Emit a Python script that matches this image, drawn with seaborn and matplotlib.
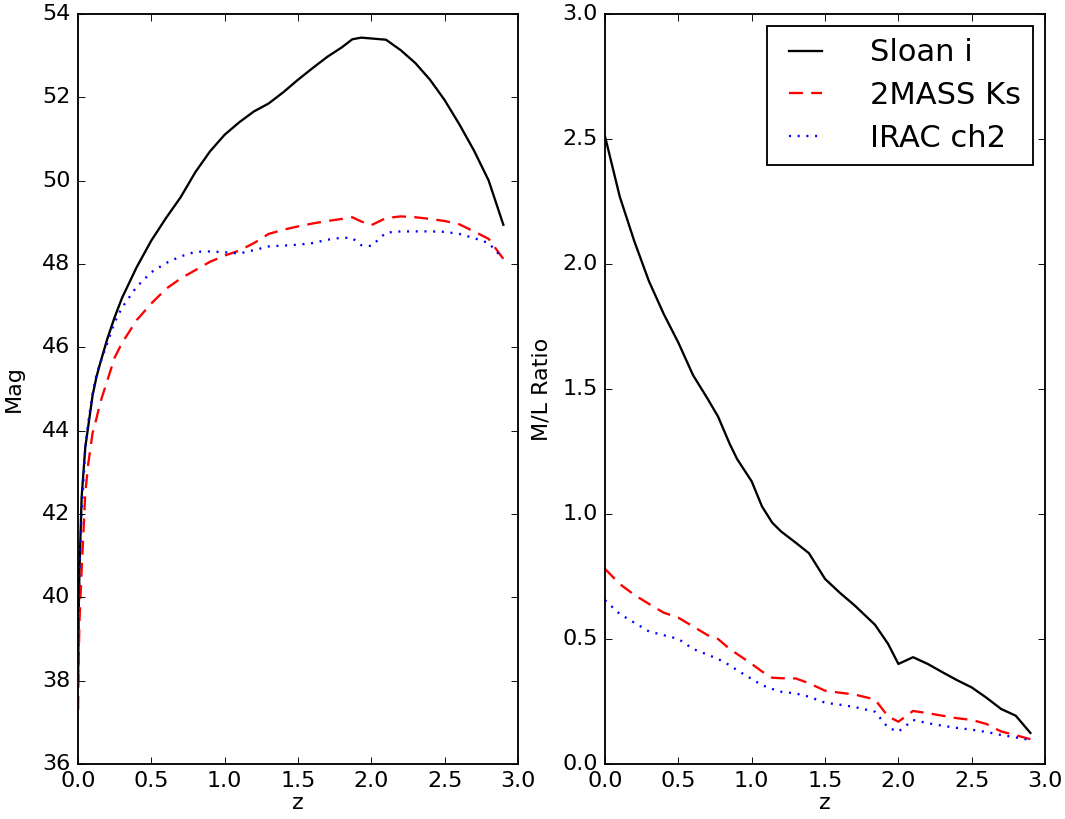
import numpy as np
import pandas as pd
import matplotlib
matplotlib.use("Agg")
import matplotlib.pyplot as plt
import seaborn as sns

# ---- data: left panel (magnitudes) ----
z_mag = [0.001, 0.005, 0.01, 0.025, 0.05, 0.07, 0.1, 0.127, 0.15, 0.2, 0.25, 0.3,
         0.4, 0.5, 0.6, 0.7, 0.8, 0.9, 1.0, 1.1, 1.2, 1.3, 1.4, 1.5, 1.6, 1.7,
         1.8, 1.87, 1.93, 2.0, 2.1, 2.2, 2.3, 2.4, 2.5, 2.6, 2.7, 2.8, 2.9]
mag_sloan_i = [38.0, 39.6, 40.6, 42.4, 43.6, 44.1, 44.85, 45.3, 45.6, 46.2, 46.72, 47.18,
               47.92, 48.56, 49.1, 49.6, 50.2, 50.7, 51.1, 51.4, 51.66, 51.85, 52.12, 52.42,
               52.7, 52.97, 53.2, 53.39, 53.43, 53.41, 53.38, 53.13, 52.82, 52.42, 51.93,
               51.35, 50.72, 50.0, 48.94]
mag_2mass_ks = [37.3, 38.5, 39.4, 40.65, 42.5, 43.2, 43.95, 44.3, 44.65, 45.2, 45.75, 46.1,
                46.65, 47.05, 47.4, 47.65, 47.85, 48.05, 48.2, 48.32, 48.5, 48.72, 48.82,
                48.9, 48.97, 49.03, 49.08, 49.12, 49.02, 48.93, 49.1, 49.14, 49.12, 49.08,
                49.03, 48.95, 48.78, 48.6, 48.12]
mag_irac_ch2 = [38.2, 39.8, 40.7, 42.0, 43.6, 44.2, 44.9, 45.36, 45.6, 46.1, 46.6, 46.95,
                47.45, 47.8, 48.02, 48.18, 48.29, 48.3, 48.28, 48.25, 48.33, 48.42, 48.44,
                48.46, 48.5, 48.58, 48.63, 48.62, 48.45, 48.43, 48.75, 48.78, 48.78, 48.78,
                48.77, 48.72, 48.62, 48.5, 48.12]

# ---- data: right panel (M/L ratio) ----
z_ml = [0.0, 0.1, 0.2, 0.3, 0.4, 0.5, 0.6, 0.7, 0.77, 0.85, 0.9, 1.0, 1.07, 1.14, 1.2,
        1.3, 1.39, 1.5, 1.6, 1.7, 1.84, 1.93, 2.0, 2.1, 2.2, 2.3, 2.4, 2.5, 2.6, 2.7,
        2.8, 2.9]
ml_sloan_i = [2.51, 2.27, 2.09, 1.93, 1.80, 1.685, 1.555, 1.46, 1.39, 1.28, 1.22, 1.13,
              1.03, 0.965, 0.93, 0.885, 0.843, 0.74, 0.685, 0.635, 0.557, 0.48, 0.40,
              0.427, 0.40, 0.367, 0.335, 0.306, 0.265, 0.22, 0.193, 0.124]
ml_2mass_ks = [0.78, 0.72, 0.676, 0.64, 0.605, 0.585, 0.55, 0.515, 0.50, 0.46, 0.44, 0.40,
               0.37, 0.345, 0.343, 0.342, 0.323, 0.293, 0.285, 0.278, 0.258, 0.19, 0.169,
               0.212, 0.203, 0.193, 0.183, 0.176, 0.16, 0.13, 0.115, 0.099]
ml_irac_ch2 = [0.655, 0.60, 0.565, 0.53, 0.515, 0.50, 0.46, 0.437, 0.42, 0.395, 0.375, 0.34,
               0.315, 0.30, 0.289, 0.282, 0.269, 0.245, 0.237, 0.228, 0.209, 0.145, 0.129,
               0.176, 0.163, 0.153, 0.144, 0.137, 0.128, 0.116, 0.106, 0.096]

series_names = ["Sloan i", "2MASS Ks", "IRAC ch2"]
x_ticks = [0.0, 0.5, 1.0, 1.5, 2.0, 2.5, 3.0]
mag_ticks = [36, 38, 40, 42, 44, 46, 48, 50, 52, 54]
ml_ticks = [0.0, 0.5, 1.0, 1.5, 2.0, 2.5, 3.0]

plt.style.use("classic")
plt.rcParams["figure.facecolor"] = "white"
plt.rcParams["savefig.facecolor"] = "white"
plt.rcParams["font.family"] = ["DejaVu Sans"]

styles = [("black", (None, None)), ("red", (7.5, 4.5)), ("blue", (1.1, 3.6))]

fig = plt.figure(figsize=(8.0, 6.153), dpi=133.125)
ax1 = fig.add_axes([0.0732, 0.0672, 0.4132, 0.9157])
ax2 = fig.add_axes([0.5681, 0.0672, 0.4132, 0.9157])

mag_df = pd.DataFrame({"z": z_mag, series_names[0]: mag_sloan_i,
                       series_names[1]: mag_2mass_ks, series_names[2]: mag_irac_ch2})
ml_df = pd.DataFrame({"z": z_ml, series_names[0]: ml_sloan_i,
                      series_names[1]: ml_2mass_ks, series_names[2]: ml_irac_ch2})

lw = 1.25
for name, (c, dash) in zip(series_names, styles):
    kw = dict(color=c, linewidth=lw, estimator=None)
    if dash[0] is not None:
        kw["dashes"] = dash
    sns.lineplot(data=mag_df, x="z", y=name, ax=ax1, **kw)
    sns.lineplot(data=ml_df, x="z", y=name, ax=ax2, label=name, **kw)

ax1.set_xlim(0, 3)
ax1.set_ylim(36, 54)
ax1.set_xticks(x_ticks)
ax1.set_yticks(mag_ticks)
ax1.set_xlabel("z", labelpad=1)
ax1.set_ylabel("Mag", labelpad=10)

ax2.set_xlim(0, 3)
ax2.set_ylim(0, 3)
ax2.set_xticks(x_ticks)
ax2.set_yticks(ml_ticks)
ax2.set_xlabel("z", labelpad=1)
ax2.set_ylabel("M/L Ratio", labelpad=6)

for ax in (ax1, ax2):
    ax.xaxis.set_major_formatter(matplotlib.ticker.FormatStrFormatter("%.1f"))
ax2.yaxis.set_major_formatter(matplotlib.ticker.FormatStrFormatter("%.1f"))
ax1.yaxis.set_major_formatter(matplotlib.ticker.FormatStrFormatter("%d"))

ax2.legend(loc="upper right", fontsize=16.5, frameon=True, fancybox=False,
           numpoints=2, handlelength=1.7, handletextpad=1.25, borderaxespad=0.4,
           labelspacing=0.45)

fig.savefig("out.png", dpi=133.125)
